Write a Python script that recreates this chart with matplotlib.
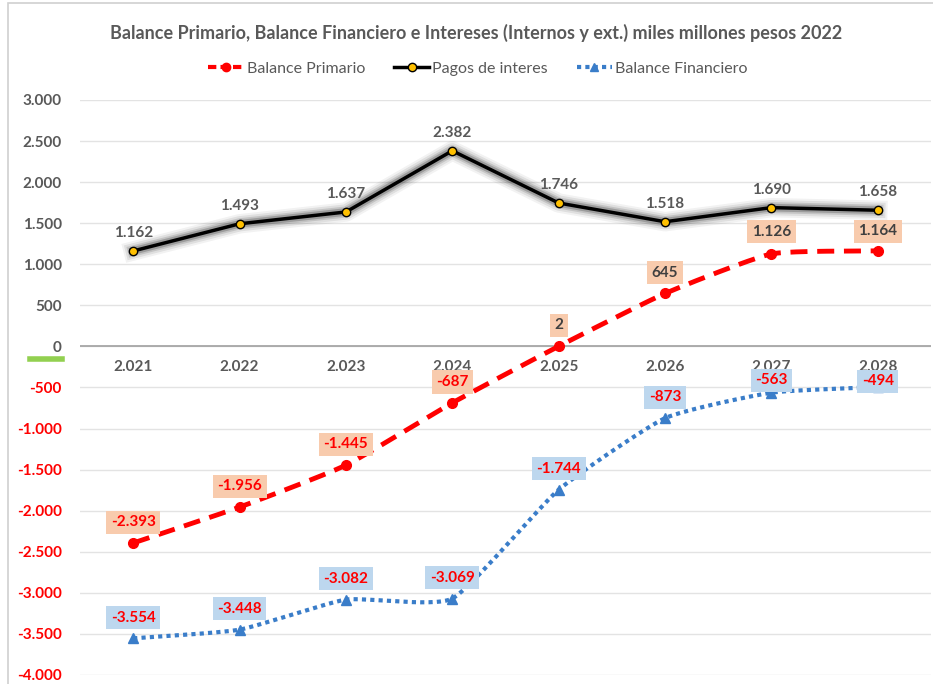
import numpy as np
import matplotlib
matplotlib.use("Agg")
import matplotlib.pyplot as plt
import matplotlib.patheffects as pe
from matplotlib.lines import Line2D
from matplotlib.patches import Rectangle

plt.rcParams['font.family'] = ['Lato', 'DejaVu Sans']

years = ["2.021", "2.022", "2.023", "2.024", "2.025", "2.026", "2.027", "2.028"]
balance_primario = [-2393, -1956, -1445, -687, 2, 645, 1126, 1164]
pagos_interes = [1162, 1493, 1637, 2382, 1746, 1518, 1690, 1658]
balance_financiero = [-3554, -3448, -3082, -3069, -1744, -873, -563, -494]
yticks = list(range(-4000, 3001, 500))

# label vertical offsets in points (style)
off_prim = [15, 15, 15, 15, 15, 15, 16, 14]
off_fin = [15, 15, 15, 15, 15, 15, 9, 4]
off_int = [13, 13, 13, 13, 13, 13, 13, 13]

GRAY = '#595959'


def fmt(v):
    s = f"{abs(int(v)):,}".replace(",", ".")
    return ("-" if v < 0 else "") + s


def smooth(x, y, tension=0.5, n=30):
    x = np.asarray(x, float); y = np.asarray(y, float)
    m = len(x)
    mx = np.zeros(m); my = np.zeros(m)
    for i in range(m):
        a = max(i - 1, 0); b = min(i + 1, m - 1)
        mx[i] = tension * (x[b] - x[a]) / (b - a)
        my[i] = tension * (y[b] - y[a]) / (b - a)
    xs, ys = [], []
    for i in range(m - 1):
        t = np.linspace(0, 1, n, endpoint=(i == m - 2))
        h00 = 2 * t**3 - 3 * t**2 + 1; h10 = t**3 - 2 * t**2 + t
        h01 = -2 * t**3 + 3 * t**2; h11 = t**3 - t**2
        xs.extend(h00 * x[i] + h10 * mx[i] + h01 * x[i + 1] + h11 * mx[i + 1])
        ys.extend(h00 * y[i] + h10 * my[i] + h01 * y[i + 1] + h11 * my[i + 1])
    return np.array(xs), np.array(ys)


fig = plt.figure(figsize=(9.33, 6.84), dpi=100)
ax = fig.add_axes([80 / 933, 1 - 675 / 684, 851 / 933, 575 / 684])
x = np.arange(len(years))

ax.set_xlim(-0.5, len(years) - 0.5)
ax.set_ylim(-4000, 3000)
ax.set_yticks(yticks)
ax.set_yticklabels([fmt(v) for v in yticks])
for lbl, v in zip(ax.get_yticklabels(), yticks):
    lbl.set_color('#FF0000' if v < 0 else GRAY)
    lbl.set_fontweight('bold')
    lbl.set_fontsize(11)
ax.tick_params(axis='y', length=0, pad=13)
ax.grid(axis='y', color='#E3E3E3', linewidth=1)
ax.set_axisbelow(True)
for s in ax.spines.values():
    s.set_visible(False)
ax.axhline(0, color='#A6A6A6', linewidth=1.3, zorder=1)
ax.set_xticks([])
for xi, yr in zip(x, years):
    ax.annotate(yr, (xi, 0), xytext=(0, -10), textcoords='offset points', ha='center', va='top',
                fontsize=11, fontweight='bold', color=GRAY, zorder=2)

# Pagos de interes (black with glow)
glow = [pe.Stroke(linewidth=14, foreground='#000000', alpha=0.05),
        pe.Stroke(linewidth=11, foreground='#000000', alpha=0.08),
        pe.Stroke(linewidth=8, foreground='#000000', alpha=0.12),
        pe.Stroke(linewidth=5.5, foreground='#000000', alpha=0.2),
        pe.Normal()]
ax.plot(x, pagos_interes, color='black', linewidth=2.5, zorder=4, path_effects=glow)
ax.plot(x, pagos_interes, linestyle='none', marker='o', markersize=6, markerfacecolor='#FFC000',
        markeredgecolor='black', markeredgewidth=1, zorder=5)

# Balance Primario
sx, sy = smooth(x, balance_primario)
ax.plot(sx, sy, color='#FF0000', linewidth=3.5, linestyle=(0, (3.5, 2)), dash_capstyle='butt', zorder=4)
ax.plot(x, balance_primario, linestyle='none', marker='o', markersize=7, color='#FF0000', zorder=5)

# Balance Financiero
fx, fy = smooth(x, balance_financiero)
ax.plot(fx, fy, color='#3A7DC9', linewidth=3, linestyle=(0, (1, 1)), dash_capstyle='butt', zorder=4)
ax.plot(x, balance_financiero, linestyle='none', marker='^', markersize=7, color='#3A7DC9', zorder=5)

# labels
for xi, v, o in zip(x, pagos_interes, off_int):
    ax.annotate(fmt(v), (xi, v), xytext=(0, o), textcoords='offset points', ha='center', va='center',
                fontsize=11, fontweight='bold', color=GRAY, zorder=6)
for xi, v, o in zip(x, balance_primario, off_prim):
    ax.annotate(fmt(v), (xi, v), xytext=(0, o), textcoords='offset points', ha='center', va='center',
                fontsize=11, fontweight='bold', color=('#FF0000' if v < 0 else '#404040'), zorder=6,
                bbox=dict(boxstyle='square,pad=0.3', facecolor='#F8CBAD', edgecolor='none'))
for xi, v, o in zip(x, balance_financiero, off_fin):
    ax.annotate(fmt(v), (xi, v), xytext=(0, o), textcoords='offset points', ha='center', va='center',
                fontsize=11, fontweight='bold', color='#FF0000', zorder=6,
                bbox=dict(boxstyle='square,pad=0.3', facecolor='#BDD7EE', edgecolor='none'))

# title
fig.text(0.5 + 10 / 933, 1 - 33 / 684,
         'Balance Primario, Balance Financiero e Intereses (Internos y ext.) miles millones pesos 2022',
         ha='center', va='center', fontsize=13, fontweight='bold', color=GRAY)

# legend
handles = [
    Line2D([], [], color='#FF0000', linewidth=3, linestyle=(0, (2, 1)), marker='o', markersize=6),
    Line2D([], [], color='black', linewidth=2.5, marker='o', markersize=6, markerfacecolor='#FFC000',
           markeredgecolor='black'),
    Line2D([], [], color='#3A7DC9', linewidth=3, linestyle=(0, (1, 1)), marker='^', markersize=6),
]
fig.legend(handles, ['Balance Primario', 'Pagos de interes', 'Balance Financiero'],
           loc='center', bbox_to_anchor=(478 / 933, 1 - 69 / 684), ncol=3, frameon=False,
           fontsize=11.5, labelcolor=GRAY, handlelength=2.2, columnspacing=1.8, handletextpad=0.2)

# chart border and stray green mark
fig.patches.append(Rectangle((8 / 933, -0.01), 1.0, 1 - 3 / 684 + 0.01, transform=fig.transFigure,
                             fill=False, edgecolor='#D0D0D0', linewidth=1.2))
fig.lines.append(Line2D([30 / 933, 62 / 933], [1 - 359 / 684] * 2, transform=fig.transFigure,
                        color='#92D050', linewidth=4))

fig.savefig('out.png', dpi=100)
